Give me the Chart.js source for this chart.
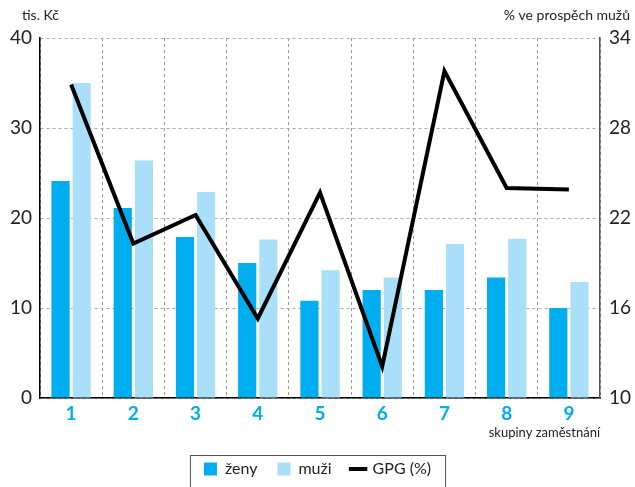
<!DOCTYPE html>
<html lang="cs">
<head>
<meta charset="UTF-8">
<title>GPG podle skupin zaměstnání</title>
<script src="https://cdn.jsdelivr.net/npm/chart.js"></script>
<style>
    body { margin: 0; padding: 0; background: #fff; }
    #wrap { width: 635px; height: 487px; }
</style>
</head>
<body>
<div id="wrap"><canvas id="chart" width="635" height="487"></canvas></div>
<script>
    // data
    const groups = ['1', '2', '3', '4', '5', '6', '7', '8', '9'];
    const zeny = [24.1, 21.1, 17.9, 15.0, 10.8, 12.0, 12.0, 13.4, 10.0];
    const muzi = [35.0, 26.4, 22.9, 17.6, 14.2, 13.4, 17.1, 17.7, 12.9];
    const gpg = [30.9, 20.3, 22.2, 15.3, 23.7, 12.1, 31.8, 24.0, 23.9];
    const leftTicks = [0, 10, 20, 30, 40];
    const rightTicks = [10, 16, 22, 28, 34];

    const FONT = 'Lato, "Open Sans", sans-serif';

    // axis captions above the plot + box round the legend
    const extras = {
        id: 'extras',
        afterDraw(chart) {
            const ctx = chart.ctx;
            const a = chart.chartArea;
            ctx.save();
            ctx.fillStyle = '#222';
            ctx.font = '14px ' + FONT;
            ctx.textBaseline = 'middle';
            ctx.textAlign = 'left';
            ctx.fillText('tis. Kč', a.left - 18, a.top - 23);
            ctx.textAlign = 'right';
            ctx.fillText('% ve prospěch mužů', a.right + 30, a.top - 23);

            const boxes = chart.legend.legendHitBoxes;
            if (boxes && boxes.length) {
                const l = Math.min(...boxes.map(b => b.left)) - 14;
                const r = Math.max(...boxes.map(b => b.left + b.width)) + 14;
                const t = boxes[0].top - 6;
                ctx.strokeStyle = '#555';
                ctx.lineWidth = 1;
                ctx.strokeRect(l + 0.5, t + 0.5, r - l, 60);
            }
            ctx.restore();
        }
    };

    new Chart(document.getElementById('chart'), {
        data: {
            labels: groups,
            datasets: [
                {
                    type: 'line',
                    label: 'GPG (%)',
                    data: gpg,
                    yAxisID: 'y1',
                    borderColor: '#000',
                    backgroundColor: '#000',
                    borderWidth: 4,
                    pointRadius: 0,
                    pointStyle: 'line',
                    tension: 0,
                    order: 0
                },
                {
                    type: 'bar',
                    label: 'ženy',
                    data: zeny,
                    yAxisID: 'y',
                    backgroundColor: '#00AEEF',
                    pointStyle: 'rect',
                    categoryPercentage: 0.68,
                    barPercentage: 0.86,
                    order: 1
                },
                {
                    type: 'bar',
                    label: 'muži',
                    data: muzi,
                    yAxisID: 'y',
                    backgroundColor: '#AADFF9',
                    pointStyle: 'rect',
                    categoryPercentage: 0.68,
                    barPercentage: 0.86,
                    order: 1
                }
            ]
        },
        options: {
            responsive: false,
            animation: false,
            devicePixelRatio: 1,
            layout: { padding: { top: 38, left: 0, right: 0, bottom: 0 } },
            plugins: {
                tooltip: { enabled: false },
                legend: {
                    position: 'bottom',
                    labels: {
                        usePointStyle: true,
                        boxWidth: 13,
                        boxHeight: 13,
                        padding: 20,
                        color: '#222',
                        font: { family: FONT, size: 16 },
                        sort: (a, b) => b.datasetIndex === 0 ? -1 : (a.datasetIndex === 0 ? 1 : a.datasetIndex - b.datasetIndex)
                    }
                }
            },
            scales: {
                x: {
                    offset: true,
                    grid: { display: true, offset: true, color: '#999', drawTicks: false },
                    border: { display: true, color: '#000', width: 1.5, dash: [3, 3] },
                    ticks: {
                        padding: 4,
                        color: '#00AEEF',
                        font: { family: FONT, size: 19, weight: 'bold' }
                    },
                    title: {
                        display: true,
                        text: 'skupiny zaměstnání',
                        align: 'end',
                        color: '#222',
                        font: { family: FONT, size: 13 },
                        padding: { top: 2, bottom: 0 }
                    },
                    afterFit(scale) {
                        scale.height = 487 - 398 - scale.chart.legend.height;
                    }
                },
                y: {
                    position: 'left',
                    min: 0,
                    max: 40,
                    afterBuildTicks(scale) { scale.ticks = leftTicks.map(v => ({ value: v })); },
                    grid: { color: '#aaa', drawTicks: false },
                    border: { display: true, color: '#000', width: 1.5, dash: [3, 3] },
                    ticks: {
                        padding: 8,
                        color: '#222',
                        font: { family: FONT, size: 19 }
                    },
                    afterFit(scale) { scale.width = 40; }
                },
                y1: {
                    position: 'right',
                    min: 10,
                    max: 34,
                    afterBuildTicks(scale) { scale.ticks = rightTicks.map(v => ({ value: v })); },
                    grid: { display: false, drawTicks: false },
                    border: { display: true, color: '#555', width: 1.5 },
                    ticks: {
                        padding: 9,
                        color: '#222',
                        font: { family: FONT, size: 19 }
                    },
                    afterFit(scale) { scale.width = 35; }
                }
            }
        },
        plugins: [extras]
    });
</script>
</body>
</html>
